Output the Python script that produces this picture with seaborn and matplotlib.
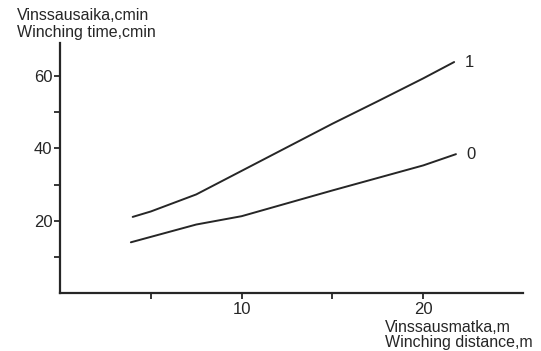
import numpy as np
import pandas as pd
import seaborn as sns
import matplotlib.pyplot as plt

# values
dist_1 = [4.0, 5.0, 7.5, 10.0, 12.5, 15.0, 17.5, 20.0, 21.7]
time_1 = [21.1, 22.6, 27.3, 33.8, 40.3, 46.8, 53.0, 59.3, 63.8]
dist_0 = [3.9, 7.5, 10.0, 15.0, 20.0, 21.8]
time_0 = [14.1, 19.0, 21.3, 28.4, 35.3, 38.4]
curve_names = ["1", "0"]

df = pd.concat([
    pd.DataFrame({"dist": dist_1, "time": time_1, "curve": curve_names[0]}),
    pd.DataFrame({"dist": dist_0, "time": time_0, "curve": curve_names[1]}),
])

sns.set_style("ticks")
plt.rcParams['font.family'] = ['Liberation Sans', 'DejaVu Sans']
ink = "#262626"

fig = plt.figure(figsize=(5.41, 3.51), dpi=100)
ax = fig.add_axes([0.111, 0.164, 0.856, 0.713])
sns.lineplot(data=df, x="dist", y="time", units="curve", estimator=None,
             color=ink, lw=1.4, sort=False, ax=ax)

ax.set_xlim(0, 25.5)
ax.set_ylim(0, 69)
ax.set_xticks([10, 20])
ax.set_xticklabels(["10", "20"])
ax.set_xticks([5, 15], minor=True)
ax.set_yticks([20, 40, 60])
ax.set_yticklabels(["20", "40", "60"])
ax.set_yticks([10, 30, 50], minor=True)
ax.tick_params(which="both", direction="out", length=4, width=1.3,
               color=ink, labelsize=12, labelcolor=ink, pad=1.5)
ax.tick_params(axis="x", pad=2.5)
sns.despine(ax=ax)
for s in ["left", "bottom"]:
    ax.spines[s].set_linewidth(1.6)
    ax.spines[s].set_color(ink)
ax.set_xlabel("")
ax.set_ylabel("")

for d, t, name in [(dist_1[-1], time_1[-1], curve_names[0]),
                   (dist_0[-1], time_0[-1], curve_names[1])]:
    ax.text(d + 0.6, t, name, fontsize=12, color=ink, va="center", ha="left")

fig.text(17 / 541, 1 - 15 / 351, "Vinssausaika,cmin", fontsize=11.5, color=ink, va="center")
fig.text(17 / 541, 1 - 32 / 351, "Winching time,cmin", fontsize=11.5, color=ink, va="center")
fig.text(385 / 541, 1 - 327 / 351, "Vinssausmatka,m", fontsize=11.5, color=ink, va="center")
fig.text(385 / 541, 1 - 343 / 351, "Winching distance,m", fontsize=11.5, color=ink, va="center")

fig.savefig("out.png", dpi=100, facecolor="white")
